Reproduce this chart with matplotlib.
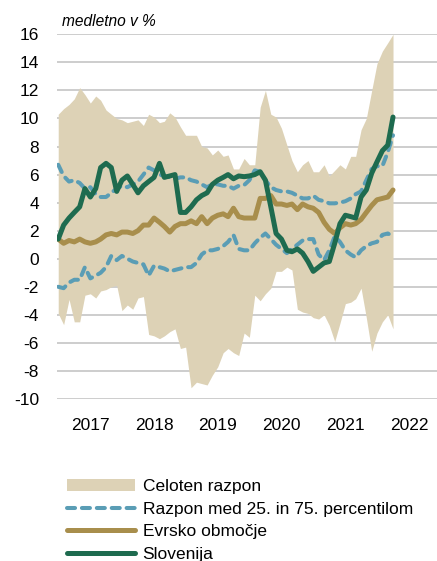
import matplotlib
matplotlib.use("Agg")
import matplotlib.pyplot as plt
import pandas as pd

months = pd.date_range("2016-07-01", periods=64, freq="MS")

range_max = [10.3, 10.7, 11.0, 11.4, 12.2, 11.7, 11.1, 11.6, 11.3, 10.6,
             10.3, 10.0, 9.9, 9.7, 9.8, 9.9, 9.5, 10.3, 10.1, 9.7,
             9.8, 10.4, 10.1, 9.4, 8.8, 8.8, 8.8, 8.0, 7.9, 7.4,
             7.75, 7.3, 7.4, 6.4, 6.4, 7.15, 6.7, 6.7, 10.8, 12.0,
             10.3, 10.1, 9.3, 8.1, 7.0, 6.2, 6.7, 7.0, 6.2, 6.2,
             6.7, 5.9, 6.3, 6.7, 6.4, 7.3, 7.3, 9.2, 10.0, 12.0,
             13.9, 14.8, 15.4, 16.0]
range_min = [-3.9, -4.7, -2.9, -4.5, -4.5, -2.6, -2.5, -2.8, -2.3, -2.2,
             -2.0, -1.9, -3.7, -3.3, -3.6, -2.8, -2.7, -5.4, -5.5, -5.7,
             -5.5, -5.2, -5.0, -6.4, -6.3, -9.2, -8.8, -8.9, -9.0, -8.3,
             -7.7, -6.7, -6.4, -6.7, -6.9, -5.3, -5.6, -2.6, -3.0, -2.5,
             -2.1, -0.9, -0.9, -0.6, -0.8, -3.6, -3.8, -3.9, -4.2, -4.3,
             -4.0, -4.75, -5.9, -4.6, -3.2, -3.1, -2.85, -2.1, -4.2, -6.6,
             -5.3, -4.5, -4.0, -5.0]
p75 = [6.7, 5.9, 5.5, 5.6, 5.4, 5.0, 5.1, 4.6, 4.4, 4.4,
       4.7, 5.0, 5.2, 5.1, 5.3, 5.5, 6.0, 6.5, 6.3, 6.0,
       5.9, 5.8, 5.7, 5.8, 5.8, 5.6, 5.5, 5.3, 5.1, 5.3,
       5.3, 5.2, 5.2, 5.0, 5.2, 5.25, 5.6, 6.3, 6.2, 5.6,
       5.1, 4.9, 4.8, 4.8, 4.7, 4.5, 4.3, 4.3, 4.5, 4.2,
       4.1, 3.95, 3.95, 4.0, 4.1, 4.3, 4.6, 4.8, 5.6, 6.4,
       6.6, 6.6, 7.6, 8.8]
p25 = [-2.0, -2.1, -1.7, -1.5, -1.5, -0.6, -1.4, -1.2, -1.0, -0.6,
       0.2, -0.1, 0.2, 0.0, -0.2, -0.3, -0.4, -1.2, -0.5, -0.6,
       -0.7, -0.9, -0.8, -0.7, -0.6, -0.6, -0.3, 0.3, 0.6, 0.6,
       0.7, 0.9, 1.2, 1.7, 0.7, 0.6, 0.6, 1.1, 1.5, 1.8,
       1.4, 1.0, 0.7, 0.4, 0.7, 1.0, 1.3, 1.4, 1.4, 0.3,
       -0.1, 0.6, 1.6, 1.2, 0.6, 0.3, 0.1, 0.6, 0.9, 1.1,
       1.2, 1.7, 1.8, 1.6]
euro_area = [1.4, 1.1, 1.3, 1.2, 1.4, 1.2, 1.1, 1.2, 1.4, 1.7,
             1.8, 1.7, 1.9, 1.9, 1.8, 2.0, 2.4, 2.4, 2.9, 2.6,
             2.3, 1.9, 2.3, 2.5, 2.5, 2.7, 2.5, 3.0, 2.5, 2.9,
             3.1, 3.2, 3.0, 3.6, 3.0, 2.9, 2.9, 2.9, 4.3, 4.3,
             4.5, 3.9, 3.9, 3.8, 3.9, 3.5, 3.9, 3.7, 3.6, 3.3,
             2.6, 2.1, 1.8, 2.2, 2.5, 2.4, 2.5, 2.8, 3.3, 3.8,
             4.2, 4.3, 4.4, 4.9]
slovenia = [1.4, 2.4, 2.9, 3.3, 3.7, 5.0, 4.4, 5.0, 6.5, 6.8,
            6.5, 4.8, 5.6, 5.9, 5.3, 4.7, 5.2, 5.5, 5.8, 6.8,
            5.8, 5.9, 6.0, 3.3, 3.3, 3.7, 4.2, 4.5, 4.7, 5.3,
            5.6, 5.8, 6.0, 5.7, 5.9, 5.85, 5.9, 6.0, 6.2, 5.6,
            3.7, 1.8, 1.4, 0.6, 0.5, 0.7, 0.4, -0.2, -0.9, -0.6,
            -0.3, -0.2, 1.1, 2.5, 3.1, 3.0, 2.9, 4.4, 4.9, 6.1,
            6.9, 7.7, 8.1, 10.1]

year_labels = ["2017", "2018", "2019", "2020", "2021", "2022"]
y_ticks = list(range(-10, 17, 2))

labels = ["Celoten razpon", "Razpon med 25. in 75. percentilom",
          "Evrsko območje", "Slovenija"]

plt.rcParams["font.family"] = ["Liberation Sans", "DejaVu Sans"]

BEIGE = "#DDD2B6"
BLUE = "#5A9DB5"
GOLD = "#A88E4C"
GREEN = "#1E6B4F"
FS = 12.5

fig = plt.figure(figsize=(4.37, 5.61), dpi=100)
ax = fig.add_axes([57 / 437, 1 - 399 / 561, 380 / 437, (399 - 34.3) / 561])

ax.fill_between(months, range_min, range_max, color=BEIGE, linewidth=0,
                zorder=2, label=labels[0])
dash_kw = dict(color=BLUE, linewidth=2.9, dashes=(2.0, 1.7),
               dash_capstyle="round", zorder=3)
ax.plot(months, p75, label=labels[1], **dash_kw)
ax.plot(months, p25, **dash_kw)
ax.plot(months, euro_area, color=GOLD, linewidth=3.6,
        solid_capstyle="round", solid_joinstyle="round", zorder=4,
        label=labels[2])
ax.plot(months, slovenia, color=GREEN, linewidth=3.6,
        solid_capstyle="round", solid_joinstyle="round", zorder=5,
        label=labels[3])

ax.set_ylim(-10, 16)
ax.set_yticks(y_ticks)
ax.set_yticklabels([str(v) for v in y_ticks])
xt = [pd.Timestamp(f"{y}-01-01") for y in year_labels]
ax.set_xticks(xt)
ax.set_xticklabels(year_labels)
ax.set_xlim(pd.Timestamp("2016-06-24"), pd.Timestamp("2022-06-10"))

ax.grid(axis="y", color="#C0C0C0", linewidth=1.1, zorder=0)
ax.set_axisbelow(True)
for s in ax.spines.values():
    s.set_visible(False)
ax.tick_params(axis="both", length=0, labelsize=FS, colors="black")
ax.tick_params(axis="y", pad=13)
ax.tick_params(axis="x", pad=14)

fig.text(62 / 437, 1 - 21.7 / 561, "medletno v %", fontsize=11.2,
         style="italic", va="center", ha="left")

leg = fig.legend(loc="upper left", bbox_to_anchor=(60 / 437, 1 - 472 / 561),
                 frameon=False, fontsize=FS, handlelength=3.9,
                 handletextpad=0.46, labelspacing=0.43, borderaxespad=0)

fig.savefig("out.png", dpi=100)
